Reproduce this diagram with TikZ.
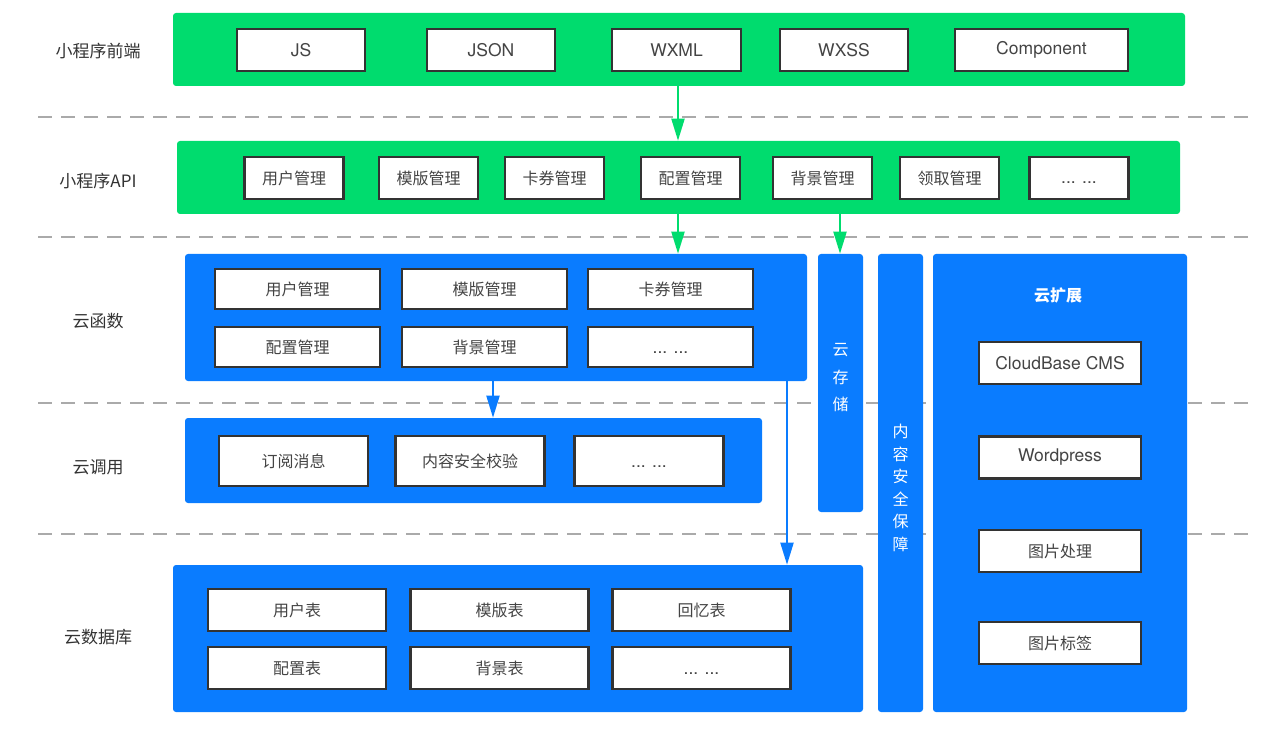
\documentclass[tikz,border=0pt]{standalone}
\usepackage{fontspec}
\setmainfont{Noto Sans CJK SC}
\newfontfamily\latinfont{TeX Gyre Heros}
\usepackage{tikz}
\usetikzlibrary{arrows.meta,positioning}

\definecolor{wxgreen}{RGB}{0,220,110}
\definecolor{cbblue}{RGB}{10,124,255}
\definecolor{boxline}{RGB}{51,51,51}
\definecolor{txtgray}{RGB}{68,68,68}
\definecolor{dashgray}{RGB}{170,170,170}

\begin{document}
\begin{tikzpicture}[
    x = 1pt, y = -1pt, % pixel grid of the picture
    font = \fontsize{16}{19}\selectfont,
    semithick % line style
    ]

    \tikzset{
    layer/.style = {draw = none, rounded corners = 3pt, inner sep = 0pt},
    green layer/.style = {layer, fill = wxgreen},
    blue layer/.style = {layer, fill = cbblue},
    item/.style = {draw = boxline, line width = 2.4pt, fill = white,
        text = txtgray, inner sep = 0pt},
    latin/.style = {font = \latinfont\fontsize{17.5}{20}\selectfont},
    dots/.style = {latin, text height = 12pt, text depth = 0pt},
    side label/.style = {text = boxline, font = \fontsize{17}{20}\selectfont},
    garrow/.style = {draw = wxgreen, line width = 2pt,
        -{Triangle[width=13pt,length=22pt]}},
    barrow/.style = {draw = cbblue, line width = 2pt,
        -{Triangle[width=13pt,length=22pt]}}
    }

    \useasboundingbox (0,0) rectangle (1280,730);

    % dashed separators
    \foreach \yy in {117,237,403,534}
        \draw[dashgray, line width = 1.5pt, dash pattern = on 14pt off 9pt]
            (38,\yy) -- (1248,\yy);

    % left labels
    \node[side label] (lfe) at (98,51) {小程序前端};
    \node[side label] (lapi) at (98,181) {小程序API};
    \node[side label] (lfn) at (98,321) {云函数};
    \node[side label] (lcall) at (98,467) {云调用};
    \node[side label] (ldb) at (98,637) {云数据库};

    % mini program front end
    \node[green layer, minimum width = 1012pt, minimum height = 73pt] (fe) at (679,49.5) {};
    \tikzset{feitem/.style = {item, latin, minimum height = 42pt}}
    \node[feitem, minimum width = 128pt] (fe1) at (301,50) {JS};
    \node[feitem, minimum width = 128pt] (fe2) at (491,50) {JSON};
    \node[feitem, minimum width = 129pt] (fe3) at (676.5,50) {WXML};
    \node[feitem, minimum width = 128pt] (fe4) at (844,50) {WXSS};
    \node[feitem, minimum width = 173pt] (fe5) at (1041.5,50) {Component};

    % mini program api
    \node[green layer, minimum width = 1003pt, minimum height = 73pt] (api) at (678.5,177.5) {};
    \tikzset{apiitem/.style = {item, minimum width = 99pt, minimum height = 42pt}}
    \node[apiitem] (api1) at (294,178) {用户管理};
    \node[apiitem] (api2) at (428.5,178) {模版管理};
    \node[apiitem] (api3) at (554.5,178) {卡券管理};
    \node[apiitem] (api4) at (690.5,178) {配置管理};
    \node[apiitem] (api5) at (822.5,178) {背景管理};
    \node[apiitem] (api6) at (949.5,178) {领取管理};
    \node[apiitem, dots] (api7) at (1079,178) {... ...};

    % cloud functions
    \node[blue layer, minimum width = 622pt, minimum height = 127pt] (fn) at (496,317.5) {};
    \tikzset{fnitem/.style = {item, minimum width = 165pt, minimum height = 40pt}}
    \node[fnitem] (fn1) at (297.5,289) {用户管理};
    \node[fnitem] (fn2) at (484.5,289) {模版管理};
    \node[fnitem] (fn3) at (670.5,289) {卡券管理};
    \node[fnitem] (fn4) at (297.5,347) {配置管理};
    \node[fnitem] (fn5) at (484.5,347) {背景管理};
    \node[fnitem, dots] (fn6) at (670.5,347) {... ...};

    % cloud storage, content safety, extensions
    \node[blue layer, minimum width = 45pt, minimum height = 258pt] (store) at (840.5,383) {};
    \node[text = white, align = center, font = \fontsize{16}{27.5}\selectfont]
        (storet) at (840.5,378) {云\\存\\储};
    \node[blue layer, minimum width = 45pt, minimum height = 458pt] (safe) at (900.5,483) {};
    \node[text = white, align = center, font = \fontsize{16}{22.6}\selectfont]
        (safet) at (900.5,488) {内\\容\\安\\全\\保\\障};
    \node[blue layer, minimum width = 254pt, minimum height = 458pt] (ext) at (1060,483) {};
    \node[text = white] (extt) at (1058,295) {\bfseries 云扩展};
    \tikzset{extitem/.style = {item, minimum width = 162pt, minimum height = 42pt}}
    \node[extitem, latin] (ext1) at (1060,363) {CloudBase CMS};
    \node[extitem, latin] (ext2) at (1060,457.5) {Wordpress};
    \node[extitem] (ext3) at (1060,551) {图片处理};
    \node[extitem] (ext4) at (1060,643) {图片标签};

    % cloud calls
    \node[blue layer, minimum width = 577pt, minimum height = 85pt] (call) at (473.5,460.5) {};
    \tikzset{callitem/.style = {item, minimum width = 149pt, minimum height = 50pt}}
    \node[callitem] (call1) at (293.5,461) {订阅消息};
    \node[callitem] (call2) at (470,461) {内容安全校验};
    \node[callitem, dots] (call3) at (649,461) {... ...};

    % cloud database
    \node[blue layer, minimum width = 690pt, minimum height = 147pt] (db) at (518,638.5) {};
    \tikzset{dbitem/.style = {item, minimum width = 178pt, minimum height = 42pt}}
    \node[dbitem] (db1) at (297,610) {用户表};
    \node[dbitem] (db2) at (499.5,610) {模版表};
    \node[dbitem] (db3) at (701.5,610) {回忆表};
    \node[dbitem] (db4) at (297,668) {配置表};
    \node[dbitem] (db5) at (499.5,668) {背景表};
    \node[dbitem, dots] (db6) at (701.5,668) {... ...};

    % arrows
    \coordinate (xa) at (678,0);
    \coordinate (xb) at (840,0);
    \coordinate (xc) at (493,0);
    \coordinate (xd) at (787,0);
    \draw[garrow] (fe.south -| xa) -- (api.north -| xa);
    \draw[garrow] (api.south -| xa) -- (fn.north -| xa);
    \draw[garrow] (api.south -| xb) -- (store.north -| xb);
    \draw[barrow] (fn.south -| xc) -- (call.north -| xc);
    \draw[barrow] (fn.south -| xd) -- (db.north -| xd);
\end{tikzpicture}
\end{document}
